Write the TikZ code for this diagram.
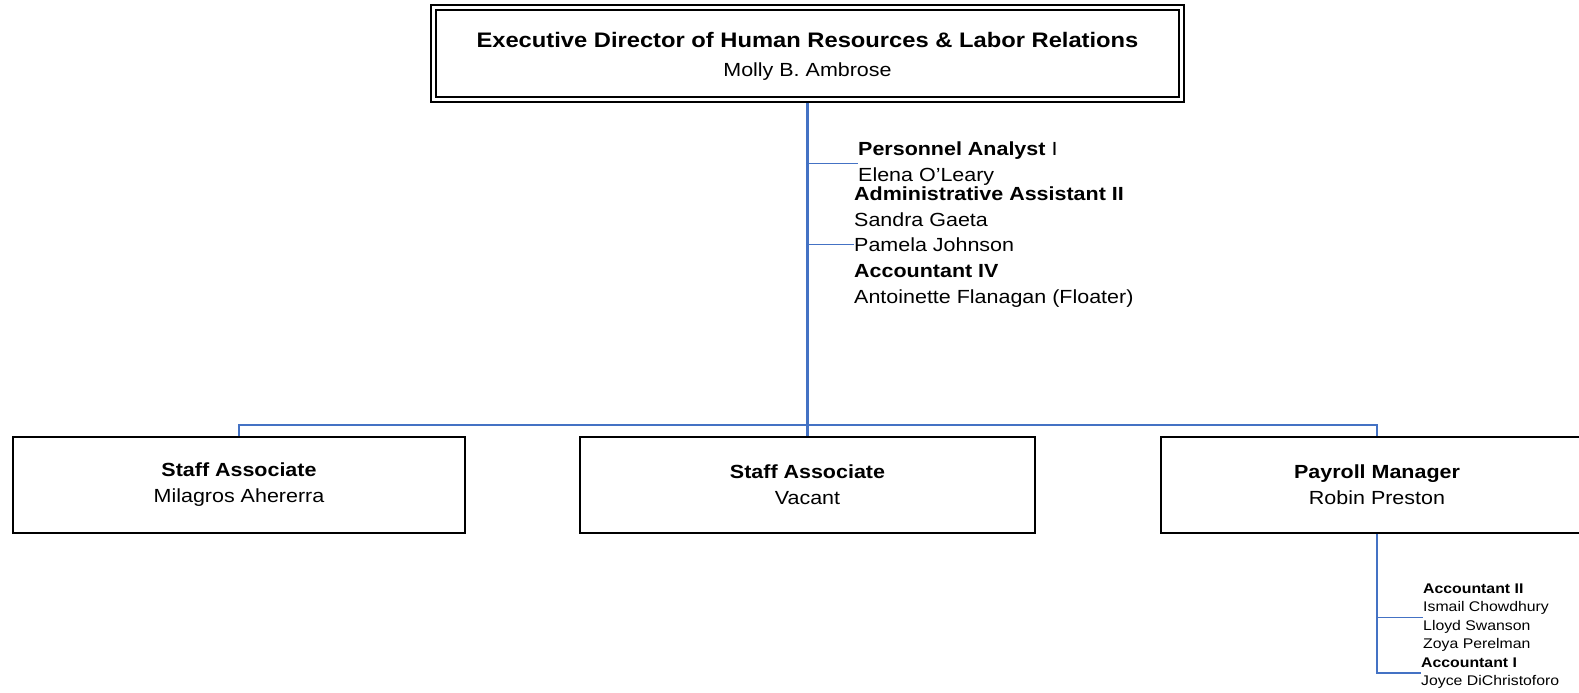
\documentclass[tikz,border=0pt]{standalone}
\usepackage{fontspec}
\setmainfont{Liberation Sans}[FakeStretch=1.13]
\usetikzlibrary{fit,calc}
\definecolor{linkblue}{RGB}{68,114,196}
\begin{document}
\begin{tikzpicture}[x=1pt,y=-1pt,
  box/.style={draw=black, line width=1.8pt, inner sep=0pt, align=center, font=\fontsize{19}{26}\selectfont},
  trunk/.style={draw=linkblue, line width=2.2pt},
  link/.style={draw=linkblue, line width=1.4pt},
  listtext/.style={inner sep=0pt, align=left, font=\fontsize{19}{25.7}\selectfont, anchor=base west},
  smalltext/.style={inner sep=0pt, align=left, font=\fontsize{14}{18.5}\selectfont, anchor=base west}]
\useasboundingbox (0,0) rectangle (1579,693);
\clip (0,0) rectangle (1579,693);
% top box
\node[draw=black, line width=2.4pt, outer sep=0pt, minimum width=743pt, minimum height=87pt,
      inner sep=0pt, align=center, font=\fontsize{19}{29}\selectfont] (exec) at (807.5,53.5)
  {\rule{0pt}{21pt}\textbf{\fontsize{21}{29}\selectfont Executive Director of Human Resources \& Labor Relations}\\Molly B. Ambrose};
\node[draw=black, line width=1.2pt, fit=(exec), inner sep=5pt] (execframe) {};
% second level boxes
\node[box, minimum width=452pt, minimum height=96pt] (sa1) at (239,485) {\textbf{Staff Associate}\\Milagros Ahererra};
\node[box, minimum width=455pt, minimum height=96pt] (sa2) at (807.5,485) {\textbf{Staff Associate}\\Vacant};
\node[box, minimum width=432pt, minimum height=96pt] (pm) at (1377,485) {\textbf{Payroll Manager}\\Robin Preston};
% assistants (anchor = baseline of last line)
\node[listtext] (pa) at (858,181) {\textbf{Personnel Analyst} I\\Elena O’Leary};
\node[listtext] (aa) at (854,226) {\textbf{Administrative Assistant II}\\Sandra Gaeta};
\node[listtext] (pj) at (854,251.4) {Pamela Johnson};
\node[listtext] (a4) at (854,303) {\textbf{Accountant IV}\\Antoinette Flanagan (Floater)};
% payroll staff
\node[smalltext] (a2) at (1423,648.5) {\textbf{Accountant II}\\Ismail Chowdhury\\Lloyd Swanson\\Zoya Perelman};
\node[smalltext] (a1) at (1421,685.5) {\textbf{Accountant I}\\Joyce DiChristoforo};
% connectors
\coordinate (bus) at (807.5,425);
\draw[trunk] (execframe.south) -- (sa2.north);
\draw[link] (sa1.north) |- (bus) -| (pm.north);
\draw[link] (pa.west -| execframe.south) -- (pa.west);
\draw[link] (pj.west -| execframe.south) -- (pj.west);
\draw[trunk] (pm.south) |- (a1.west);
\draw[link] (a2.west -| pm.south) -- (a2.west);
\end{tikzpicture}
\end{document}
